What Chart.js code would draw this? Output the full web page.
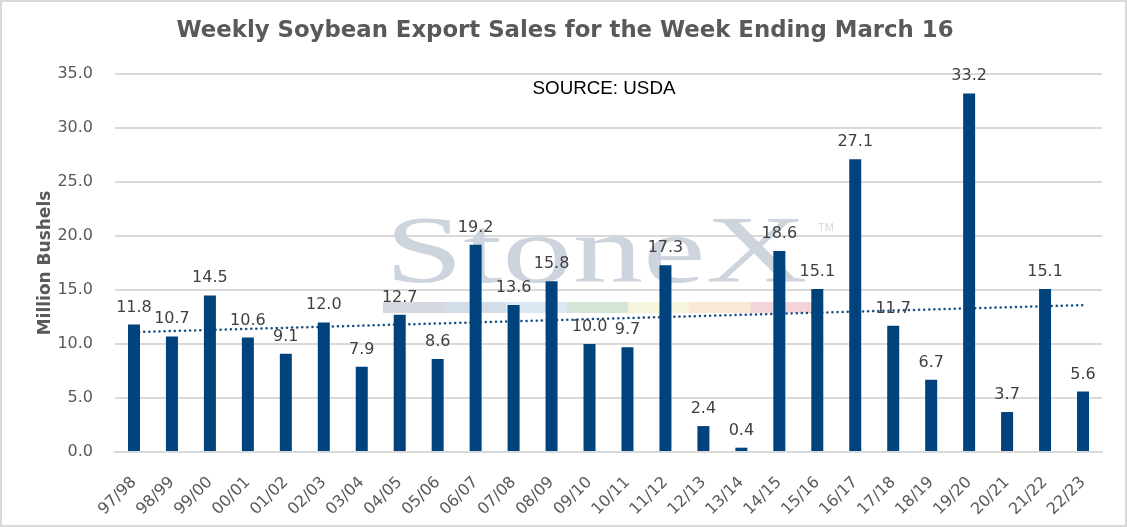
<!DOCTYPE html>
<html>
<head>
<meta charset="utf-8">
<script src="https://cdn.jsdelivr.net/npm/chart.js@4/dist/chart.umd.min.js"></script>
<style>
  html, body { margin: 0; padding: 0; background: #fff; }
  #wrap { width: 1127px; height: 527px; position: relative; }
  #chart { position: absolute; left: 0; top: 0; }
  #frame { position: absolute; left: 0; top: 0; width: 1127px; height: 527px; box-sizing: border-box; border: 2px solid #d9d9d9; pointer-events: none; }
</style>
</head>
<body>
<div id="wrap"><canvas id="chart" width="1127" height="527"></canvas><div id="frame"></div></div>
<script>
// marketing years
const seasons = ['97/98', '98/99', '99/00', '00/01', '01/02', '02/03', '03/04', '04/05', '05/06',
    '06/07', '07/08', '08/09', '09/10', '10/11', '11/12', '12/13', '13/14', '14/15', '15/16',
    '16/17', '17/18', '18/19', '19/20', '20/21', '21/22', '22/23'];

// million bushels, week ending March 16
const weeklySales = [11.8, 10.7, 14.5, 10.6, 9.1, 12.0, 7.9, 12.7, 8.6, 19.2, 13.6, 15.8, 10.0,
    9.7, 17.3, 2.4, 0.4, 18.6, 15.1, 27.1, 11.7, 6.7, 33.2, 3.7, 15.1, 5.6];

// trend line ends
const trendFirst = 11.1;
const trendLast = 13.6;
const trendLine = seasons.map((s, i) => i === 0 ? trendFirst : (i === seasons.length - 1 ? trendLast : null));

const yTicks = [0, 5, 10, 15, 20, 25, 30, 35];

const chartTitle = 'Weekly Soybean Export Sales for the Week Ending March 16';
const sourceNote = 'SOURCE: USDA';

const FONT = "'DejaVu Sans', Verdana, sans-serif";
const GREY = '#595959';

// faint StoneX logo behind the bars
const watermark = {
    id: 'watermark',
    beforeDatasetsDraw(chart) {
        const ctx = chart.ctx;
        ctx.save();
        ctx.font = "96px 'Liberation Serif', 'DejaVu Serif', serif";
        ctx.fillStyle = '#cdd4dd';
        ctx.textBaseline = 'alphabetic';
        const w = ctx.measureText('StoneX').width;
        ctx.translate(385, 282);
        ctx.scale(422 / w, 1);
        ctx.fillText('StoneX', 0, 0);
        ctx.restore();

        ctx.save();
        ctx.font = "11px 'Liberation Sans', sans-serif";
        ctx.fillStyle = '#d3d9e1';
        ctx.textBaseline = 'alphabetic';
        ctx.fillText('TM', 818, 231);
        const stripes = ['#d5d9df', '#d3dde9', '#dbe8f3', '#d4e5d7', '#f7f5dc', '#fae8d6', '#f3d5d9'];
        const x0 = 383, sw = (812 - 383) / stripes.length;
        stripes.forEach((c, i) => {
            ctx.fillStyle = c;
            ctx.fillRect(x0 + i * sw, 302, sw + 0.5, 11);
        });
        ctx.restore();
    }
};

// value labels on top of bars, title and source note
const barLabels = {
    id: 'barLabels',
    afterDatasetsDraw(chart) {
        const ctx = chart.ctx;
        const meta = chart.getDatasetMeta(0);
        ctx.save();
        ctx.font = '16px ' + FONT;
        ctx.fillStyle = '#404040';
        ctx.textAlign = 'center';
        ctx.textBaseline = 'alphabetic';
        meta.data.forEach((bar, i) => {
            ctx.fillText(weeklySales[i].toFixed(1), bar.x, bar.y - 13);
        });

        ctx.fillStyle = '#000';
        ctx.font = "18.8px 'Liberation Sans', Arial, sans-serif";
        ctx.textBaseline = 'middle';
        ctx.fillText(sourceNote, 604, 89);

        ctx.fillStyle = GREY;
        ctx.font = 'bold 22.8px ' + FONT;
        ctx.fillText(chartTitle, 565, 31);
        ctx.restore();
    }
};

new Chart(document.getElementById('chart'), {
    data: {
        labels: seasons,
        datasets: [{
            type: 'bar',
            label: 'Weekly sales',
            data: weeklySales,
            backgroundColor: '#00427c',
            barPercentage: 0.632,
            categoryPercentage: 0.5,
            order: 1
        }, {
            type: 'line',
            label: 'Trend',
            data: trendLine,
            spanGaps: true,
            borderColor: '#1a4f85',
            borderWidth: 2.5,
            borderDash: [0.1, 5],
            borderCapStyle: 'round',
            pointRadius: 0,
            fill: false,
            order: 2
        }]
    },
    options: {
        responsive: false,
        animation: false,
        devicePixelRatio: 1,
        layout: { padding: { left: 0, right: 25, top: 74, bottom: 0 } },
        plugins: {
            legend: { display: false },
            tooltip: { enabled: false },
            title: { display: false }
        },
        scales: {
            x: {
                afterFit(axis) { axis.height = 75; },
                grid: { display: false, drawTicks: false },
                border: { color: '#d9d9d9', width: 2 },
                ticks: {
                    color: GREY,
                    font: { family: FONT, size: 16 },
                    minRotation: 45,
                    maxRotation: 45,
                    autoSkip: false,
                    padding: 21
                }
            },
            y: {
                min: 0,
                max: 35,
                afterFit(axis) { axis.width = 115; },
                afterBuildTicks(axis) { axis.ticks = yTicks.map(v => ({ value: v })); },
                grid: { color: '#d9d9d9', lineWidth: 2, drawTicks: false },
                border: { display: false },
                ticks: {
                    color: GREY,
                    font: { family: FONT, size: 16 },
                    padding: 22,
                    callback: v => Number(v).toFixed(1)
                },
                title: {
                    display: true,
                    text: 'Million Bushels',
                    color: GREY,
                    font: { family: FONT, size: 17, weight: 'bold' },
                    padding: { top: 35, bottom: 0 }
                }
            }
        }
    },
    plugins: [watermark, barLabels]
});
</script>
</body>
</html>
